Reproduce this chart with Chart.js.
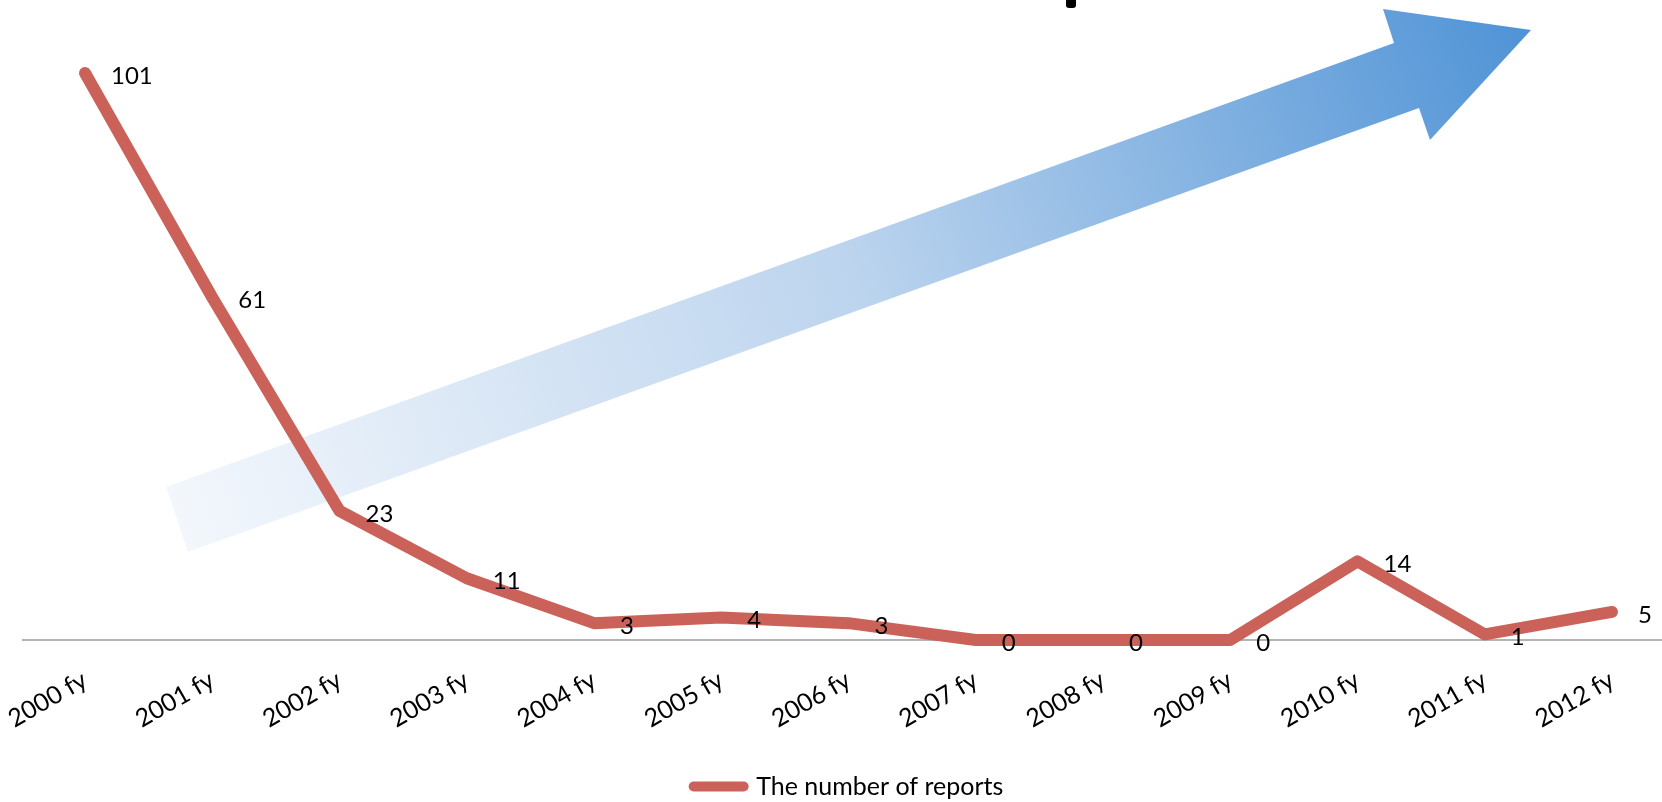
<!DOCTYPE html>
<html>
<head>
<meta charset="utf-8">
<script src="https://cdn.jsdelivr.net/npm/chart.js@4.4.0/dist/chart.umd.min.js"></script>
<style>
  html, body { margin: 0; padding: 0; background: #fff; overflow: hidden; }
  #wrap { width: 1662px; height: 802px; }
</style>
</head>
<body>
<div id="wrap"><canvas id="chart"></canvas></div>
<script>
const years = ["2000 fy", "2001 fy", "2002 fy", "2003 fy", "2004 fy", "2005 fy", "2006 fy",
               "2007 fy", "2008 fy", "2009 fy", "2010 fy", "2011 fy", "2012 fy"];
const reports = [101, 61, 23, 11, 3, 4, 3, 0, 0, 0, 14, 1, 5];
const seriesName = "The number of reports";

const lineColor = "#CB625A";
const fontName = "Lato, 'Open Sans', sans-serif";

// big gradient arrow behind the line + the base line at zero
const backdrop = {
    id: "backdrop",
    beforeDatasetsDraw: function (chart) {
        const ctx = chart.ctx;
        const y0 = chart.scales.y.getPixelForValue(0);
        ctx.save();
        var grad = ctx.createLinearGradient(177, 520, 1531, 30);
        grad.addColorStop(0, "#F3F7FC");
        grad.addColorStop(0.5, "#BCD4EE");
        grad.addColorStop(1, "#4F93D6");
        ctx.fillStyle = grad;
        ctx.beginPath();
        ctx.moveTo(166, 487);
        ctx.lineTo(1394, 43);
        ctx.lineTo(1383, 9);
        ctx.lineTo(1531, 30);
        ctx.lineTo(1430, 140);
        ctx.lineTo(1419, 108);
        ctx.lineTo(188, 552);
        ctx.closePath();
        ctx.fill();

        ctx.strokeStyle = "#9A9A9A";
        ctx.lineWidth = 1.5;
        ctx.beginPath();
        ctx.moveTo(22, y0);
        ctx.lineTo(chart.width, y0);
        ctx.stroke();

        // bottom of the cut-off title glyph
        ctx.fillStyle = "#000";
        ctx.beginPath();
        ctx.roundRect(1066, -6, 10, 14, 3);
        ctx.fill();
        ctx.restore();
    }
};

// value labels to the right of each point
const valueLabels = {
    id: "valueLabels",
    afterDatasetsDraw: function (chart) {
        const ctx = chart.ctx;
        const meta = chart.getDatasetMeta(0);
        ctx.save();
        ctx.font = "24px " + fontName;
        ctx.fillStyle = "#000";
        ctx.textAlign = "left";
        ctx.textBaseline = "middle";
        meta.data.forEach(function (pt, i) {
            ctx.fillText(String(reports[i]), pt.x + 26, pt.y + 3);
        });
        ctx.restore();
    }
};

const ctx = document.getElementById("chart").getContext("2d");
new Chart(ctx, {
    type: "line",
    data: {
        labels: years,
        datasets: [
            {
                label: seriesName,
                data: reports,
                borderColor: lineColor,
                backgroundColor: lineColor,
                borderWidth: 12,
                borderCapStyle: "round",
                borderJoinStyle: "round",
                pointRadius: 0,
                tension: 0,
                clip: false,
            },
        ],
    },
    options: {
        responsive: true,
        maintainAspectRatio: false,
        animation: false,
        layout: { padding: { left: 85, right: 50, top: 0, bottom: -7 } },
        scales: {
            x: {
                grid: { display: false, drawTicks: false },
                border: { display: false },
                ticks: {
                    autoSkip: false,
                    maxRotation: 30,
                    minRotation: 30,
                    padding: 25,
                    color: "#000",
                    font: { family: fontName, size: 25 },
                },
                afterFit: function (scale) {
                    scale.paddingLeft = 0;
                    scale.paddingRight = 0;
                    scale.height = 124;
                },
            },
            y: {
                display: false,
                min: 0,
                max: 114,
            },
        },
        plugins: {
            legend: {
                position: "bottom",
                fullSize: false,
                labels: {
                    usePointStyle: true,
                    pointStyleWidth: 50,
                    color: "#000",
                    font: { family: fontName, size: 25 },
                    generateLabels: function (chart) {
                        const items = Chart.defaults.plugins.legend.labels.generateLabels(chart);
                        items.forEach(function (it) {
                            it.pointStyle = "line";
                            it.lineWidth = 10;
                            it.lineCap = "round";
                            it.strokeStyle = lineColor;
                        });
                        return items;
                    },
                },
            },
            tooltip: { enabled: false },
        },
    },
    plugins: [backdrop, valueLabels],
});
</script>
</body>
</html>
